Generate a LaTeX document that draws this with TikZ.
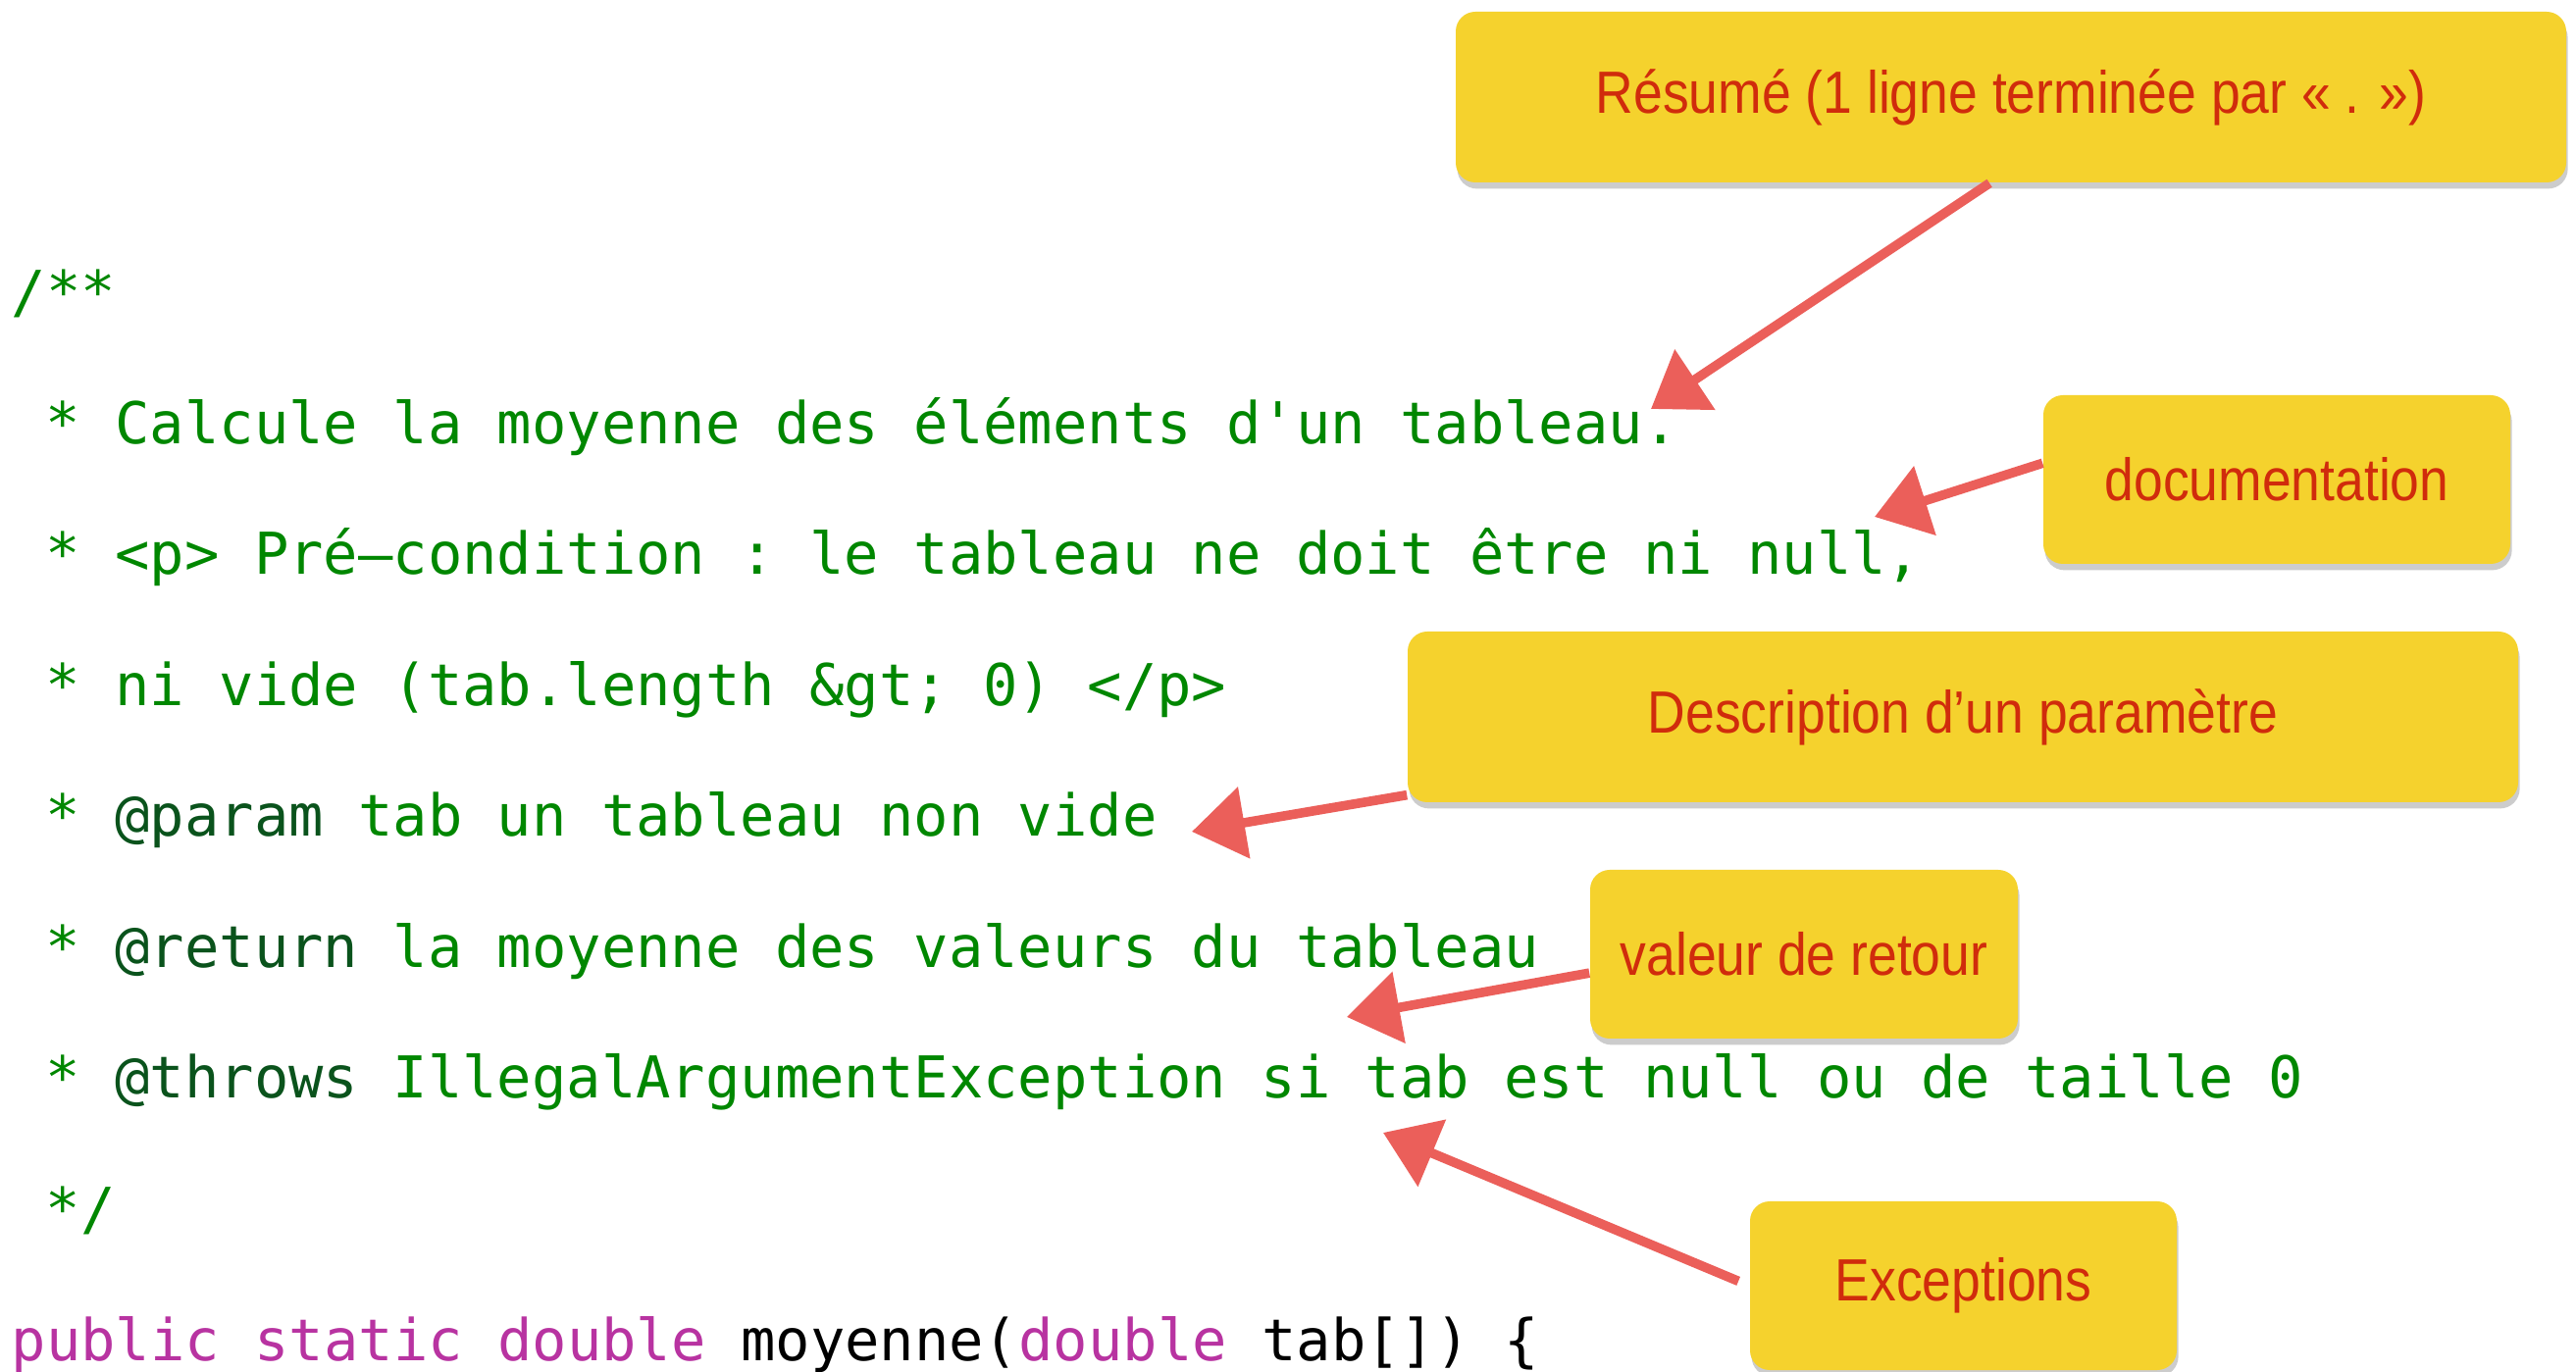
\documentclass[tikz,border=0pt]{standalone}
\usepackage{fontspec}
\setmainfont[FakeStretch=0.88]{Liberation Sans}
\setmonofont{DejaVu Sans Mono}
\usetikzlibrary{arrows.meta,shadows}
\definecolor{cmtgreen}{HTML}{008700}
\definecolor{taggreen}{HTML}{0A531C}
\definecolor{kwpurple}{HTML}{B833A1}
\definecolor{notebg}{HTML}{F5D22D}
\definecolor{notetext}{HTML}{D02C0C}
\definecolor{chalk}{HTML}{EB5F5A}
\newcommand{\tagkw}[1]{\textcolor{taggreen}{#1}}
\newcommand{\javakw}[1]{\textcolor{kwpurple}{#1}}
\tikzset{
	codeline/.style={anchor=base west,inner sep=0pt,text=cmtgreen,font=\ttfamily\fontsize{14.7pt}{17pt}\selectfont},
	notebox/.style={fill=notebg,rounded corners=5pt,text=notetext,font=\fontsize{15.2pt}{18pt}\selectfont,
		drop shadow={shadow xshift=.4pt,shadow yshift=-1.6pt,opacity=.4}},
	chalkarrow/.style={draw=chalk,line width=2.4pt,-{Triangle[length=13.5pt,width=18pt]}}
}
\begin{document}
\begin{tikzpicture}[x=0.25pt,y=-0.25pt]
	\useasboundingbox (0,0) rectangle (2626,1399);
	\fill[white] (0,0) rectangle (2626,1399);
	% le commentaire javadoc
	\node[codeline] (l0) at (11,319) {/**};
	\node[codeline] (l1) at (46,452.5) {* Calcule la moyenne des éléments d'un tableau.};
	\node[codeline] (l2) at (46,586) {* <p> Pré–condition : le tableau ne doit être ni null,};
	\node[codeline] (l3) at (46,719.5) {* ni vide (tab.length \&gt; 0) </p>};
	\node[codeline] (l4) at (46,853) {* \tagkw{@param} tab un tableau non vide};
	\node[codeline] (l5) at (46,986.5) {* \tagkw{@return} la moyenne des valeurs du tableau};
	\node[codeline] (l6) at (46,1120) {* \tagkw{@throws} IllegalArgumentException si tab est null ou de taille 0};
	\node[codeline] (l7) at (46,1253.5) {*/};
	\node[codeline,text=black] (l8) at (11,1387) {\javakw{public static double} moyenne(\javakw{double} tab[]) \{};
	% les notes
	\node[notebox,minimum width=283pt,minimum height=43.5pt] (resume) at (2050,99) {Résumé (1 ligne terminée par « . »)};
	\node[notebox,minimum width=119pt,minimum height=43pt] (doc) at (2321,489) {documentation};
	\node[notebox,minimum width=283pt,minimum height=43.5pt] (desc) at (2001,731) {Description d’un paramètre};
	\node[notebox,minimum width=109pt,minimum height=43pt] (ret) at (1839,973) {valeur de retour};
	\node[notebox,minimum width=108.75pt,minimum height=43pt] (exc) at (2001.5,1311) {Exceptions};
	% les fleches
	\path (1683,417) coordinate (S) (1911,527) coordinate (D) (1215,848) coordinate (P)
		(1373,1037) coordinate (V) (1410,1155) coordinate (E);
	\draw[chalkarrow] (resume.256) -- (S);
	\draw[chalkarrow] (doc.176) -- (D);
	\draw[chalkarrow] (desc.188) -- (P);
	\draw[chalkarrow] (ret.185) -- (V);
	\draw[chalkarrow,shorten <=3pt] (exc.west) -- (E);
\end{tikzpicture}
\end{document}
